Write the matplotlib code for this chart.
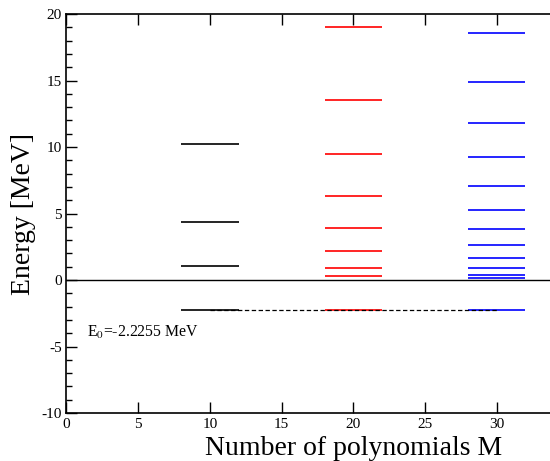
import matplotlib.pyplot as plt
from matplotlib.ticker import MultipleLocator, FixedLocator

# Bound-state energies (MeV) for each basis size M
M_values = [10, 20, 30]
level_colors = ['black', 'red', 'blue']
levels_m10 = [-2.2255, 1.07, 4.34, 10.2]
levels_m20 = [-2.2255, 0.27, 0.93, 2.15, 3.9, 6.3, 9.45, 13.55, 19.0]
levels_m30 = [-2.2255, 0.12, 0.40, 0.92, 1.65, 2.60, 3.80, 5.29, 7.07,
              9.22, 11.8, 14.9, 18.6]
all_levels = [levels_m10, levels_m20, levels_m30]
E0 = -2.2255
half_width = 2.0
x_ticks = [0, 5, 10, 15, 20, 25, 30]

plt.rcParams['font.family'] = ['Liberation Serif', 'DejaVu Serif']
plt.rcParams['mathtext.fontset'] = 'stix'
plt.rcParams['axes.unicode_minus'] = False

fig = plt.figure(figsize=(5.5, 4.61), dpi=100)
# axes run past the right edge of the figure (x range 0..40)
ax = fig.add_axes([0.1209, 0.1041, 1.0427, 0.8655])

# zero-energy reference line
ax.axhline(0, color='black', linewidth=1.0)

for M, color, levels in zip(M_values, level_colors, all_levels):
    ax.hlines(levels, M - half_width, M + half_width, colors=color, linewidth=1.2)

# ground state tie line
ax.plot([M_values[0], M_values[-1]], [E0, E0], color='black', linestyle='--',
        linewidth=0.9, dashes=(3.5, 2))

ax.text(1.4, -4.3, r'E$_0$=-2.2255 MeV', fontsize=11.3)

ax.set_xlim(0, 40)
ax.set_ylim(-10, 20)
ax.xaxis.set_major_locator(FixedLocator(x_ticks))
ax.yaxis.set_major_locator(MultipleLocator(5))
ax.yaxis.set_minor_locator(MultipleLocator(1))
ax.tick_params(which='both', direction='in', top=True, right=False, labelsize=11)
ax.tick_params(which='major', length=8, width=1)
ax.tick_params(which='minor', length=4, width=1)
ax.spines['right'].set_visible(False)
for s in ['left', 'bottom', 'top']:
    ax.spines[s].set_linewidth(1.2)

ax.set_xlabel('Number of polynomials M', fontsize=20, labelpad=3.5)
ax.set_ylabel('Energy [MeV]', fontsize=20, labelpad=4)

fig.savefig('out.png', dpi=100)
